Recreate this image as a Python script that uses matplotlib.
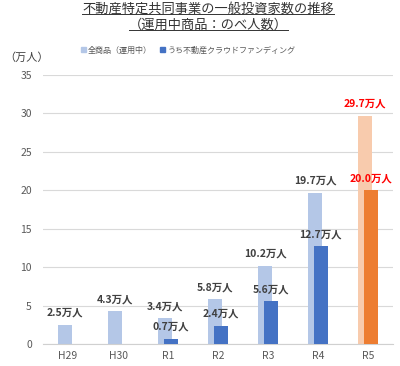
import matplotlib
matplotlib.use("Agg")
import matplotlib.pyplot as plt
from matplotlib.lines import Line2D
from matplotlib.patches import Patch
import numpy as np

plt.rcParams["font.family"] = ["Noto Sans CJK JP", "DejaVu Sans"]

# Données (万人)
annees = ["H29", "H30", "R1", "R2", "R3", "R4", "R5"]
tous_produits = [2.5, 4.3, 3.4, 5.8, 10.2, 19.7, 29.7]
crowdfunding = [None, None, 0.7, 2.4, 5.6, 12.7, 20.0]
etiquettes_tous = ["2.5万人", "4.3万人", "3.4万人", "5.8万人", "10.2万人", "19.7万人", "29.7万人"]
etiquettes_cf = [None, None, "0.7万人", "2.4万人", "5.6万人", "12.7万人", "20.0万人"]

titre = ["不動産特定共同事業の一般投資家数の推移", "（運用中商品：のべ人数）"]

couleur_clair = ["#B4C7E7"] * 6 + ["#F8CBAD"]
couleur_fonce = ["#4472C4"] * 6 + ["#ED7D31"]
couleur_texte = ["#404040"] * 6 + ["#FF0000"]

fig = plt.figure(figsize=(4.0, 3.66), dpi=100)
ax = fig.add_axes([0.1075, 0.060, 0.875, 0.735])

x = np.arange(len(annees))
largeur = 0.28
decal = 0.055

ax.bar(x - decal, tous_produits, width=largeur, color=couleur_clair, zorder=2)
x_cf = [xi for xi, v in zip(x, crowdfunding) if v is not None]
v_cf = [v for v in crowdfunding if v is not None]
c_cf = [c for c, v in zip(couleur_fonce, crowdfunding) if v is not None]
ax.bar(np.array(x_cf) + decal, v_cf, width=largeur, color=c_cf, zorder=3)

# Étiquettes de valeurs
for i, (v, lab) in enumerate(zip(tous_produits, etiquettes_tous)):
    ax.annotate(lab, (x[i] - decal, v), xytext=(0, 8.5), textcoords="offset points",
                ha="center", va="center", fontsize=7.5, fontweight="bold",
                color=couleur_texte[i], zorder=4)
for i, (v, lab) in enumerate(zip(crowdfunding, etiquettes_cf)):
    if v is None:
        continue
    ax.annotate(lab, (x[i] + decal, v), xytext=(0, 8.5), textcoords="offset points",
                ha="center", va="center", fontsize=7.5, fontweight="bold",
                color=couleur_texte[i], zorder=4)

ax.set_xlim(-0.5, len(annees) - 0.5)
ax.set_ylim(0, 35)
ax.set_yticks(np.arange(0, 36, 5))
ax.set_xticks(x)
ax.set_xticklabels(annees)
ax.tick_params(axis="both", length=0, labelsize=7.5, labelcolor="#595959")
ax.tick_params(axis="y", pad=8)
ax.tick_params(axis="x", pad=5)
ax.grid(axis="y", color="#D9D9D9", linewidth=0.8, zorder=0)
for s in ["top", "right", "left"]:
    ax.spines[s].set_visible(False)
ax.spines["bottom"].set_color("#D0D0D0")
ax.spines["bottom"].set_linewidth(0.8)

fig.text(0.01, 0.843, "（万人）", fontsize=8, color="#404040", va="center", ha="left")

# Titre souligné
t1 = fig.text(0.52, 0.974, titre[0], fontsize=9.5, color="#333333", ha="center", va="center")
t2 = fig.text(0.52, 0.931, titre[1], fontsize=9.5, color="#333333", ha="center", va="center")

handles = [Patch(color="#B4C7E7", label="全商品（運用中）"),
           Patch(color="#4472C4", label="うち不動産クラウドファンディング")]
fig.legend(handles=handles, loc="center", bbox_to_anchor=(0.47, 0.863), ncol=2,
           frameon=False, fontsize=5.8, handlelength=0.6, handleheight=0.6,
           handletextpad=0.3, columnspacing=1.0, labelcolor="#595959")

fig.canvas.draw()
rendu = fig.canvas.get_renderer()
for t in (t1, t2):
    bb = t.get_window_extent(renderer=rendu).transformed(fig.transFigure.inverted())
    y = bb.y0 + 0.005
    fig.add_artist(Line2D([bb.x0, bb.x1], [y, y], transform=fig.transFigure,
                          color="#333333", linewidth=0.7))

fig.savefig("out.png", dpi=100)
